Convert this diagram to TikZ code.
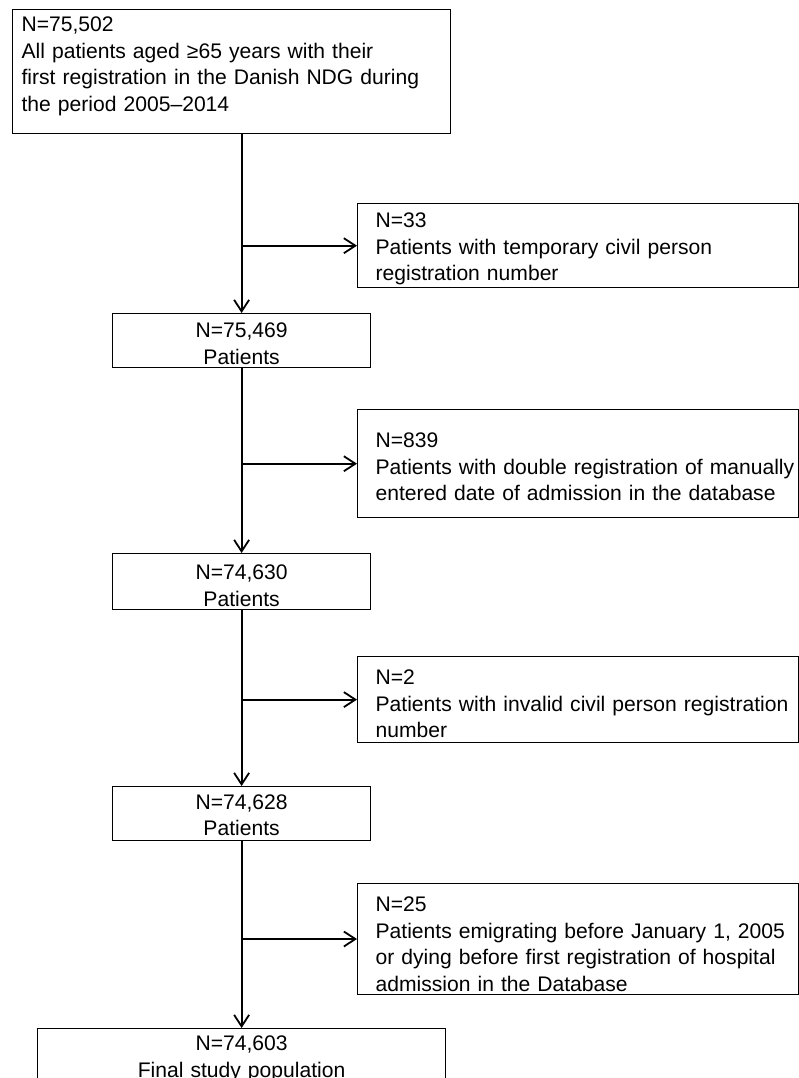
\documentclass[tikz,border=0pt]{standalone}
\usepackage{fontspec}
\setmainfont{Liberation Sans}
\usetikzlibrary{arrows.meta}
\newcommand\mytop[1]{\rule{0pt}{#1pt}}
\newcommand\mybot[1]{\rule[-#1pt]{0pt}{#1pt}}
\begin{document}
\begin{tikzpicture}[x=1pt,y=-1pt,
  txt/.style={font=\fontsize{21.1}{26.6}\selectfont},
  topbox/.style={txt,draw,line width=1.2pt,anchor=north west,inner xsep=9pt,inner ysep=0pt,text width=420pt,align=left},
  sidebox/.style={txt,draw,line width=1.2pt,anchor=north west,inner xsep=18pt,inner ysep=0pt,text width=405pt,align=left},
  mainbox/.style={txt,draw,line width=1.2pt,anchor=north west,inner sep=0pt,text width=258pt,align=center},
  endbox/.style={txt,draw,line width=1.2pt,anchor=north west,inner sep=0pt,text width=408pt,align=center},
  arr/.style={line width=1.8pt,-{Straight Barb[length=11.5pt,width=15pt,line width=1.8pt]}}
]
\useasboundingbox (0,0) rectangle (799,1078);
\clip (0,0) rectangle (799,1078);

\node[topbox] (t) at (12,9) {\mytop{22}N=75,502\\\mbox{All patients aged ≥65 years with their}\\\mbox{first registration in the Danish NDG during}\\\mbox{the period 2005–2014}\mybot{22}};

\node[sidebox] (s1) at (357,203) {\mytop{24}N=33\\\mbox{Patients with temporary civil person}\\\mbox{registration number}\mybot{7}};
\node[mainbox] (b2) at (112,313) {\mytop{24}N=75,469\\Patients\mybot{3.4}};

\node[sidebox] (s2) at (357,409) {\mytop{38}N=839\\\mbox{Patients with double registration of manually}\\\mbox{entered date of admission in the database}\mybot{17}};
\node[mainbox] (b3) at (112,553) {\mytop{26}N=74,630\\Patients\mybot{3.4}};

\node[sidebox] (s3) at (357,656) {\mytop{28}N=2\\\mbox{Patients with invalid civil person registration}\\\mbox{number}\mybot{4.8}};
\node[mainbox] (b4) at (112,786) {\mytop{22.4}N=74,628\\Patients\mybot{5}};

\node[sidebox] (s4) at (357,883) {\mytop{28}N=25\\\mbox{Patients emigrating before January 1, 2005}\\\mbox{or dying before first registration of hospital}\\\mbox{admission in the Database}\mybot{3}};
\node[endbox] (b5) at (37,1028) {\mytop{22}N=74,603\\Final study population\mybot{20}};

\draw[arr] (t.south -| b2.north) -- (b2.north);
\draw[arr] (s1.west -| b2.north) -- (s1.west);
\draw[arr] (b2.south) -- (b3.north);
\draw[arr] (s2.west -| b3.north) -- (s2.west);
\draw[arr] (b3.south) -- (b4.north);
\draw[arr] (s3.west -| b4.north) -- (s3.west);
\draw[arr] (b4.south) -- (b5.north);
\draw[arr] (s4.west -| b4.south) -- (s4.west);
\end{tikzpicture}
\end{document}
